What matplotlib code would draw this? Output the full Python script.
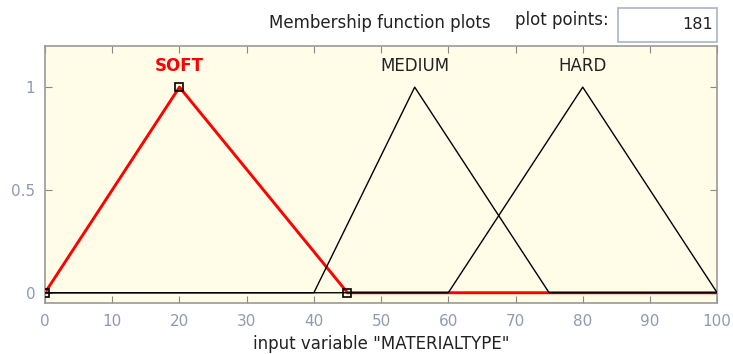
import matplotlib.pyplot as plt
from matplotlib.patches import Rectangle

plt.rcParams['font.family'] = ['DejaVu Sans']

# universo de la variable y funciones de pertenencia triangulares
nombres = ["SOFT", "MEDIUM", "HARD"]
xs_soft = [0, 20, 45, 100]
ys_soft = [0, 1, 0, 0]
xs_medium = [0, 40, 55, 75, 100]
ys_medium = [0, 0, 1, 0, 0]
xs_hard = [0, 60, 80, 100]
ys_hard = [0, 0, 1, 0]
picos = [20, 55, 80]
xticks = [0, 10, 20, 30, 40, 50, 60, 70, 80, 90, 100]
yticks = [0, 0.5, 1]
yticklabels = ["0", "0.5", "1"]
puntos = "181"

fig = plt.figure(figsize=(7.33, 3.54), dpi=100)
ax = fig.add_axes([0.0614, 0.144, 0.917, 0.726])
ax.set_facecolor('#fffde8')

# SOFT en rojo (seleccionada), las demas en negro encima
ax.plot(xs_soft, ys_soft, color='red', linewidth=2.1, zorder=2)
ax.plot(xs_soft[:3], ys_soft[:3], linestyle='none', marker='s', markersize=6,
        markerfacecolor='none', markeredgecolor='black', markeredgewidth=1.2, zorder=4)
ax.plot(xs_medium, ys_medium, color='black', linewidth=1, zorder=3)
ax.plot(xs_hard, ys_hard, color='black', linewidth=1, zorder=3)

colores = ['red', '#222222', '#222222']
for nombre, p, c in zip(nombres, picos, colores):
    ax.text(p, 1.105, nombre, color=c, fontsize=12, fontweight='bold' if c == 'red' else 'normal',
            ha='center', va='center')

ax.set_xlim(0, 100)
ax.set_ylim(-0.05, 1.2)
ax.set_xticks(xticks)
ax.set_yticks(yticks)
ax.set_yticklabels(yticklabels)
ax.tick_params(axis='both', direction='in', top=True, right=True, length=5,
               color='#888888', labelcolor='#8d9bb2', labelsize=11)
ax.tick_params(axis='x', pad=8)
ax.tick_params(axis='y', pad=7)
for s in ax.spines.values():
    s.set_color('#999999')
    s.set_linewidth(1.2)

ax.set_xlabel('input variable "MATERIALTYPE"', fontsize=12, color='#222222', labelpad=4)

fig.text(0.518, 0.935, "Membership function plots", fontsize=12, ha='center', va='center', color='#222222')
fig.text(0.703, 0.943, "plot points:", fontsize=12, ha='left', va='center', color='#222222')
fig.patches.append(Rectangle((0.843, 0.882), 0.135, 0.096, transform=fig.transFigure,
                             facecolor='white', edgecolor='#aab4c4', linewidth=1.2))
fig.text(0.973, 0.932, puntos, fontsize=11.5, ha='right', va='center', color='#222222')

fig.savefig('out.png')
